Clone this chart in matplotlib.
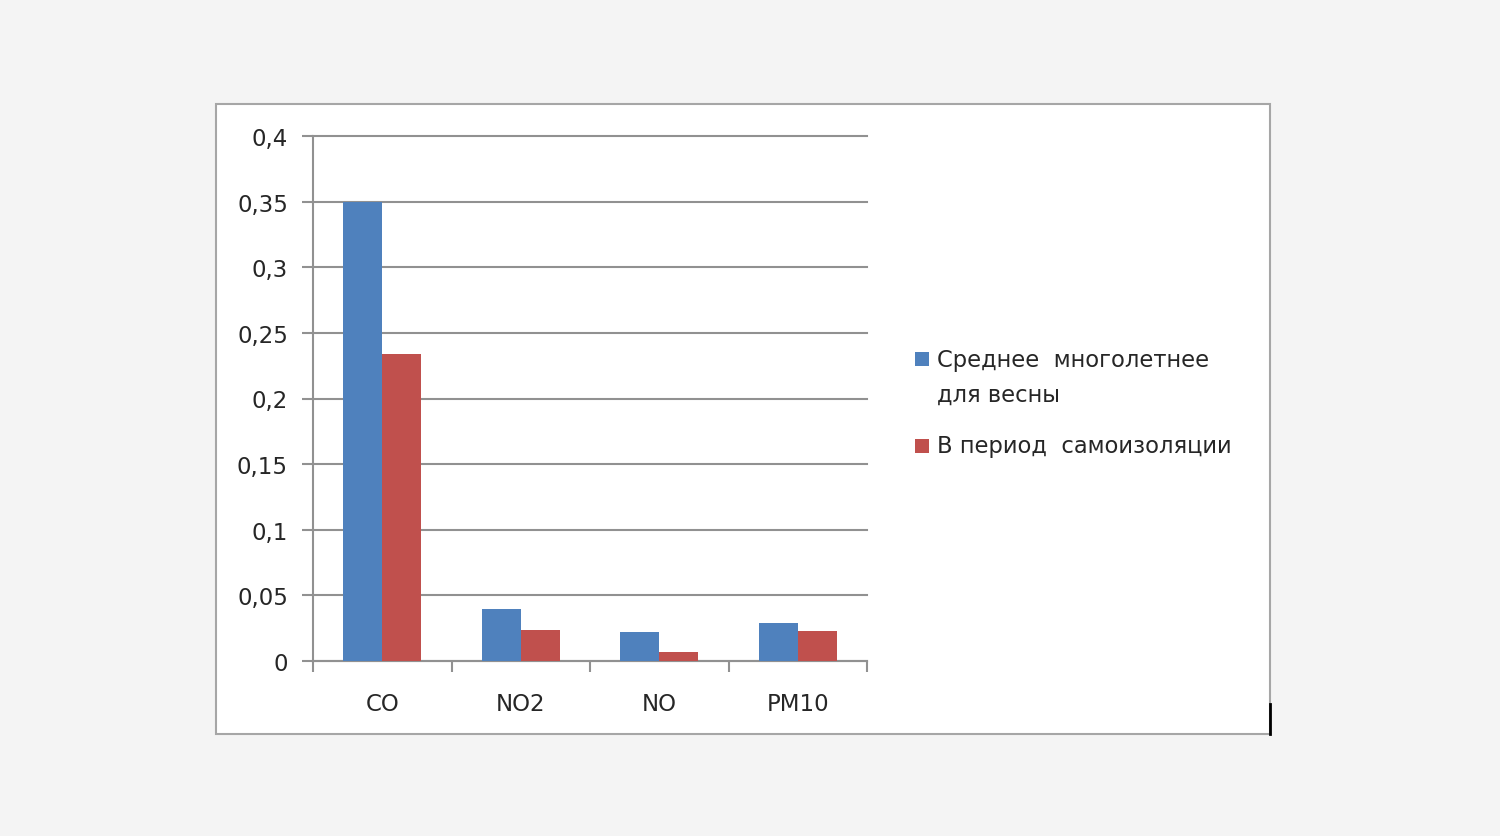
import matplotlib.pyplot as plt
import numpy as np
from matplotlib.patches import Rectangle
from matplotlib.lines import Line2D

# Data
categories = ["CO", "NO2", "NO", "PM10"]
mean_spring = [0.35, 0.040, 0.0223, 0.029]
self_isolation = [0.234, 0.0236, 0.0071, 0.0226]
series_names = ["Среднее  многолетнее\nдля весны", "В период  самоизоляции"]
y_ticks = [0, 0.05, 0.1, 0.15, 0.2, 0.25, 0.3, 0.35, 0.4]
y_labels = ["0", "0,05", "0,1", "0,15", "0,2", "0,25", "0,3", "0,35", "0,4"]

blue = "#4F81BD"
red = "#C0504D"
grid_c = "#919191"
txt_c = "#262626"

plt.rcParams["font.family"] = ["DejaVu Sans"]

fig = plt.figure(figsize=(15, 8.37), dpi=100, facecolor="#f4f4f4")

# white chart area with border
fig.patches.append(Rectangle((216 / 1500, 1 - 735 / 837), 1054 / 1500, 630 / 837,
                             transform=fig.transFigure, facecolor="white",
                             edgecolor="#a6a6a6", linewidth=1.5, zorder=-5))
fig.lines.append(Line2D([1270 / 1500, 1270 / 1500], [1 - 735 / 837, 1 - 705 / 837],
                        transform=fig.transFigure, color="black", linewidth=2))

ax = fig.add_axes([313 / 1500, 1 - 662 / 837, 554 / 1500, 525 / 837])
ax.set_zorder(2)
ax.set_facecolor("white")

x = np.arange(len(categories))
w = 0.28
ax.bar(x - w / 2, mean_spring, w, color=blue, zorder=3)
ax.bar(x + w / 2, self_isolation, w, color=red, zorder=3)

ax.set_xlim(-0.5, len(categories) - 0.5)
ax.set_ylim(0, 0.4)
ax.set_yticks(y_ticks)
ax.set_yticklabels(y_labels, fontsize=16.5, color=txt_c)
ax.set_xticks(x)
ax.set_xticklabels(categories, fontsize=16.5, color=txt_c)
ax.set_xticks(np.arange(-0.5, len(categories)), minor=True)
ax.tick_params(axis="x", which="major", length=0, pad=22)
ax.tick_params(axis="x", which="minor", length=8, width=1.5, color=grid_c, direction="out")
ax.tick_params(axis="y", length=8, width=1.5, color=grid_c, pad=10)
ax.grid(axis="y", color=grid_c, linewidth=1.5, zorder=0)
for gl in ax.get_ygridlines():
    gl.set_clip_on(False)
for s in ["top", "right"]:
    ax.spines[s].set_visible(False)
for s in ["left", "bottom"]:
    ax.spines[s].set_color(grid_c)
    ax.spines[s].set_linewidth(1.5)

# legend drawn by hand
for name, col, y0 in zip(series_names, [blue, red], [360, 447]):
    fig.patches.append(Rectangle((915 / 1500, 1 - (y0 + 7) / 837), 14 / 1500, 14 / 837,
                                 transform=fig.transFigure, facecolor=col,
                                 edgecolor="none"))
    for i, line in enumerate(name.split("\n")):
        fig.text(937 / 1500, 1 - (y0 + 35 * i) / 837, line, fontsize=16.3,
                 color=txt_c, va="center", ha="left")

fig.savefig("out.png", dpi=100, facecolor=fig.get_facecolor())
